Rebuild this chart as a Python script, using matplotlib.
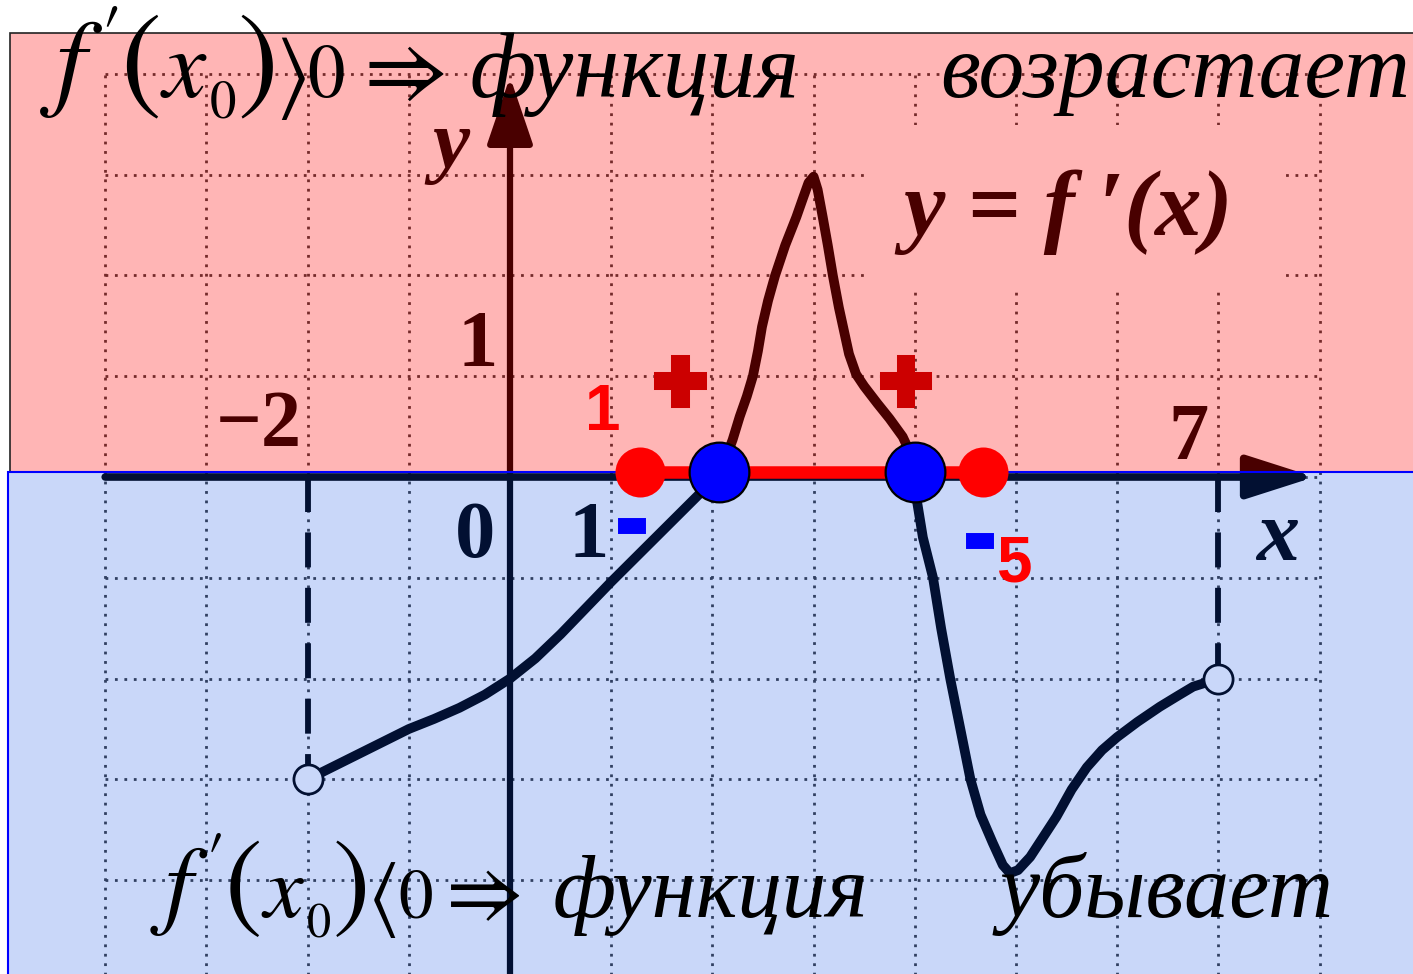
import matplotlib
matplotlib.use('Agg')
import matplotlib.pyplot as plt
from matplotlib.patches import Rectangle
import matplotlib.patheffects as pe

plt.rcParams['mathtext.fontset'] = 'stix'

# ---------------- data ----------------
curve_x = [-2.0, -1.5, -1.0, -0.75, -0.5, -0.25, 0.0, 0.25, 0.5, 0.75, 1.0, 1.45, 1.88, 2.05,
           2.13, 2.2, 2.27, 2.34, 2.4, 2.45, 2.49, 2.55, 2.62, 2.72, 2.83, 2.9, 2.95, 3.0,
           3.04, 3.09, 3.14, 3.19, 3.25, 3.3, 3.35, 3.42, 3.5, 3.63, 3.75, 3.88, 3.95, 4.0,
           4.02, 4.08, 4.18, 4.26, 4.35, 4.45, 4.55, 4.65, 4.77, 4.87, 4.94, 5.02, 5.14,
           5.27, 5.4, 5.55, 5.7, 5.85, 6.0, 6.2, 6.42, 6.6, 6.75, 7.0]
curve_y = [-3.0, -2.75, -2.5, -2.4, -2.29, -2.16, -2.0, -1.8, -1.56, -1.3, -1.04, -0.59, -0.16, 0.0,
           0.18, 0.37, 0.6, 0.8, 1.0, 1.25, 1.49, 1.75, 2.0, 2.3, 2.58, 2.78, 2.92, 2.98,
           2.85, 2.58, 2.3, 2.0, 1.68, 1.45, 1.22, 1.02, 0.9, 0.73, 0.58, 0.4, 0.25, 0.02,
           -0.23, -0.6, -1.0, -1.5, -2.0, -2.5, -3.0, -3.35, -3.63, -3.85, -3.93, -3.9, -3.77,
           -3.57, -3.37, -3.1, -2.88, -2.71, -2.58, -2.43, -2.28, -2.17, -2.08, -2.0]
open_x = [-2, 7]
open_y = [-3, -2]
crit_x = [2.07, 4.0]          # f'(x) = 0
interval_x = [1.28, 4.67]     # interval endpoints
grid_x = list(range(-4, 9))
grid_y = list(range(-5, 5))
xtick_vals = [-2, 0, 1, 7]
xtick_labels = ['−2', '0', '1', '7']
ytick_vals = [1]
ytick_labels = ['1']

# ---------------- figure ----------------
W, H = 1413, 974
fig = plt.figure(figsize=(W / 100, H / 100), dpi=100)
ax = fig.add_axes([0, 0, 1, 1])
UX, UY, X0, Y0 = 101.2, 100.8, 510, 477
ax.set_xlim(-X0 / UX, (W - X0) / UX)
ax.set_ylim((Y0 - H) / UY, Y0 / UY)
ax.axis('off')

# grid
ax.vlines(grid_x, -5.2, 4, colors='#3c3c3c', lw=2, linestyles=[(0, (1, 2.4))], zorder=1)
ax.hlines(grid_y, -4, 8, colors='#3c3c3c', lw=2, linestyles=[(0, (1, 2.4))], zorder=1)

# white box behind the function label
ax.add_patch(Rectangle((3.56, 1.86), 4.05, 1.63, facecolor='white', edgecolor='none', zorder=2))

# axes with arrows
ax.annotate('', xy=(7.95, 0), xytext=(-4, 0),
            arrowprops=dict(arrowstyle='-|>,head_length=1.0,head_width=0.32', lw=5.5,
                            color='black', shrinkA=0, shrinkB=0, mutation_scale=42),
            zorder=3)
ax.annotate('', xy=(0, 3.97), xytext=(0, -5.2),
            arrowprops=dict(arrowstyle='-|>,head_length=1.0,head_width=0.34', lw=4.5,
                            color='black', shrinkA=0, shrinkB=0, mutation_scale=42),
            zorder=3)

# dashed drop lines
for ox, oy in zip(open_x, open_y):
    ax.plot([ox, ox], [0, oy], color='black', lw=4.2, dashes=(6, 3.5), zorder=3)

# curve
ax.plot(curve_x, curve_y, color='black', lw=7, zorder=4,
        solid_capstyle='round', solid_joinstyle='round')
ax.plot(open_x, open_y, 'o', ms=21, mfc='white', mec='black', mew=2, zorder=5)

# tick labels / axis names (part of the original picture)
serif = 'Liberation Serif'
xoff = {'−2': (-0.48, 0.5), '0': (-0.35, -0.6), '1': (-0.22, -0.6), '7': (-0.3, 0.37)}
for v, lab in zip(xtick_vals, xtick_labels):
    dx, dy = xoff[lab]
    ax.text(v + dx, dy, lab, family=serif, weight='bold', fontsize=58,
            ha='center', va='center', zorder=5)
for v, lab in zip(ytick_vals, ytick_labels):
    ax.text(-0.32, v + 0.29, lab, family=serif, weight='bold', fontsize=58,
            ha='center', va='center', zorder=5)
ax.text(-0.58, 3.27, 'y', family=serif, weight='bold', style='italic', fontsize=60,
        ha='center', va='center', zorder=5)
ax.text(7.59, -0.62, 'x', family=serif, weight='bold', style='italic', fontsize=62,
        ha='center', va='center', zorder=5)
ax.text(5.52, 2.63, 'y = f ′(x)', family=serif, weight='bold', style='italic', fontsize=67,
        ha='center', va='center', zorder=5)

# coloured overlays
ax.add_patch(Rectangle((-4.94, 0.05), 15, 4.355, facecolor=(1, 0, 0), alpha=0.29,
                       edgecolor='none', zorder=10))
ax.add_patch(Rectangle((-4.94, 0.05), 15, 4.355, fill=False, edgecolor='#222222',
                       lw=1.2, zorder=11))
ax.add_patch(Rectangle((-4.96, -5.5), 15, 5.55, facecolor=(0.04, 0.3, 0.91), alpha=0.22,
                       edgecolor='none', zorder=10))
ax.add_patch(Rectangle((-4.96, -5.5), 15, 5.55, fill=False, edgecolor='#0000ff',
                       lw=1.5, zorder=11))

# interval and critical points
yl = 0.05
ax.plot(interval_x, [yl, yl], color='#ff0000', lw=9, zorder=12, solid_capstyle='butt')
ax.plot(interval_x, [yl, yl], 'o', ms=36, color='#ff0000', mec='none', zorder=13)
ax.plot(crit_x, [yl, yl], 'o', ms=43, mfc='#0000ff', mec='black', mew=1.6, zorder=14)

# signs
sans = 'Liberation Sans'
for px in [1.68, 3.91]:
    ax.text(px, 0.89, '+', family=sans, weight='bold', fontsize=62, color='#cc0000',
            ha='center', va='center', zorder=15,
            path_effects=[pe.withStroke(linewidth=6.5, foreground='#cc0000', joinstyle='miter',
                                        capstyle='butt')])
for px, py in [(1.2, -0.48), (4.64, -0.63)]:
    ax.text(px, py, '-', family=sans, weight='bold', fontsize=58, color='#0000ff',
            ha='center', va='center', zorder=15,
            path_effects=[pe.withStroke(linewidth=5, foreground='#0000ff', joinstyle='miter',
                                        capstyle='butt')])
ax.text(0.92, 0.63, '1', family=sans, weight='bold', fontsize=46, color='#ff0000',
        ha='center', va='center', zorder=15)
ax.text(4.98, -0.87, '5', family=sans, weight='bold', fontsize=46, color='#ff0000',
        ha='center', va='center', zorder=15)

# statements
renderer = fig.canvas.get_renderer()

def ftxt(px, py, s, size, **kw):
    return fig.text(px / W, 1 - py / H, s, ha='left', va='baseline', zorder=20,
                    fontsize=size, color='black', **kw)

def formula(pos, base, rel, scale):
    # pieces laid out left to right; each starts at its wanted pixel or right after the previous
    pieces = [(r"$f\,'$", 0, 78), (r"$($", 0, 88), (r"$x$", 0, 70), (r"$0$", 21, 38),
              (r"$)$", 0, 88), (rel, 4, 64), (r"$0$", 0, 54), (r"$\Rightarrow$", 0, 66)]
    prev = -1e9
    for want, (s, dy, size) in zip(pos, pieces):
        x = max(want, prev + 1)
        t = ftxt(x, base + dy * scale, s, size * scale)
        bb = t.get_window_extent(renderer)
        prev = x + bb.width

formula((40, 113, 156, 198, 236, 266, 298, 350), 97, r'$\rangle$', 1.0)
formula((150, 216, 254, 294, 312, 340, 380, 432), 917, r'$\langle$', 0.92)

ftxt(470, 97, 'функция', 67, family=serif, style='italic')
ftxt(940, 97, 'возрастает', 66, family=serif, style='italic')
ftxt(553, 917, 'функция', 64, family=serif, style='italic')
ftxt(1000, 917, 'убывает', 65, family=serif, style='italic')

fig.savefig('out.png', dpi=100)
